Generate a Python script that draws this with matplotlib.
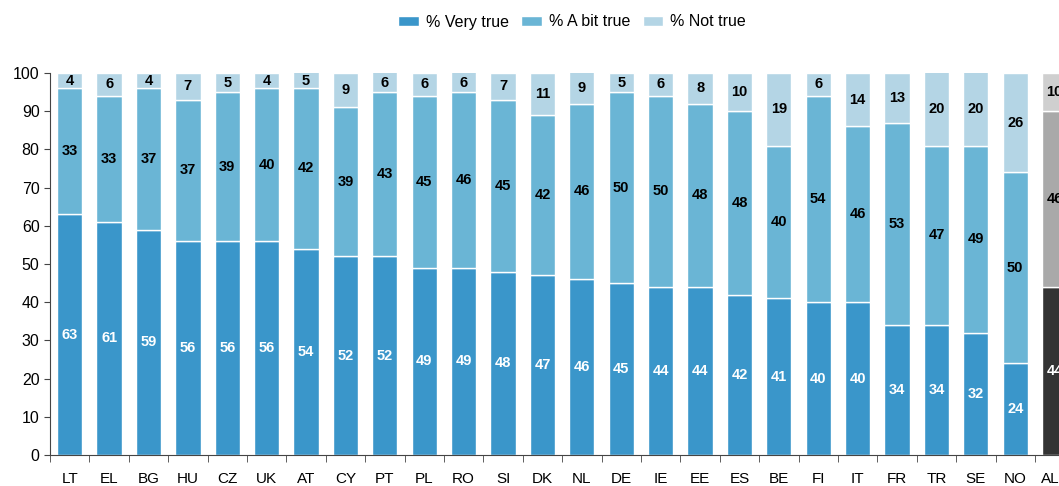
import numpy as np
import matplotlib.pyplot as plt

plt.rcParams['font.family'] = ['Liberation Sans', 'DejaVu Sans']

countries = ['LT', 'EL', 'BG', 'HU', 'CZ', 'UK', 'AT', 'CY', 'PT', 'PL', 'RO', 'SI', 'DK',
             'NL', 'DE', 'IE', 'EE', 'ES', 'BE', 'FI', 'IT', 'FR', 'TR', 'SE', 'NO', 'ALL']
very_true = [63, 61, 59, 56, 56, 56, 54, 52, 52, 49, 49, 48, 47,
             46, 45, 44, 44, 42, 41, 40, 40, 34, 34, 32, 24, 44]
bit_true = [33, 33, 37, 37, 39, 40, 42, 39, 43, 45, 46, 45, 42,
            46, 50, 50, 48, 48, 40, 54, 46, 53, 47, 49, 50, 46]
not_true = [4, 6, 4, 7, 5, 4, 5, 9, 6, 6, 6, 7, 11,
            9, 5, 6, 8, 10, 19, 6, 14, 13, 20, 20, 26, 10]

c_very = ['#3a96ca'] * 25 + ['#333333']
c_bit = ['#6ab5d5'] * 25 + ['#a9a9a9']
c_not = ['#b4d5e5'] * 25 + ['#cfcfcf']

x = np.arange(len(countries))
vt = np.array(very_true)
bt = np.array(bit_true)
nt = np.array(not_true)

fig = plt.figure(figsize=(10.59, 4.86), dpi=100)
ax = fig.add_axes([50 / 1059, 31 / 486, 1 - 50 / 1059, 382 / 486])

w = 0.64
b1 = ax.bar(x, vt, w, color=c_very, edgecolor='white', linewidth=1)
b2 = ax.bar(x, bt, w, bottom=vt, color=c_bit, edgecolor='white', linewidth=1)
b3 = ax.bar(x, nt, w, bottom=vt + bt, color=c_not, edgecolor='white', linewidth=1)

# value labels in the middle of each segment
for i in range(len(x)):
    ax.text(x[i], vt[i] / 2, str(vt[i]), ha='center', va='center', color='white',
            fontsize=10.5, fontweight='bold')
    ax.text(x[i], vt[i] + bt[i] / 2, str(bt[i]), ha='center', va='center', color='black',
            fontsize=10.5, fontweight='bold')
    top = min(vt[i] + bt[i] + nt[i], 100)
    ax.text(x[i], (vt[i] + bt[i] + top) / 2, str(nt[i]), ha='center', va='center', color='black',
            fontsize=10.5, fontweight='bold')

ax.set_xlim(-0.5, 25.11)
ax.set_ylim(0, 100)
ax.set_yticks(range(0, 101, 10))
ax.set_xticks(x)
ax.set_xticklabels(countries)
ax.set_xticks(np.arange(-0.5, 25.5, 1), minor=True)
ax.tick_params(axis='x', which='major', length=0, labelsize=11, pad=12)
ax.tick_params(axis='x', which='minor', length=5, color='#444444')
ax.tick_params(axis='y', length=4, labelsize=11.5, color='#444444')
for s in ['top', 'right']:
    ax.spines[s].set_visible(False)
ax.spines['left'].set_color('#444444')
ax.spines['bottom'].set_color('#444444')

ax.legend(handles=[b1[0], b2[0], b3[0]], labels=['% Very true', '% A bit true', '% Not true'],
          loc='center', bbox_to_anchor=(572 / 1059, 1 - 22 / 486), bbox_transform=fig.transFigure,
          ncol=3, frameon=False, fontsize=11.5, handlelength=1.3, handleheight=0.55,
          handletextpad=0.4, columnspacing=0.8)

fig.savefig('out.png', dpi=100)
